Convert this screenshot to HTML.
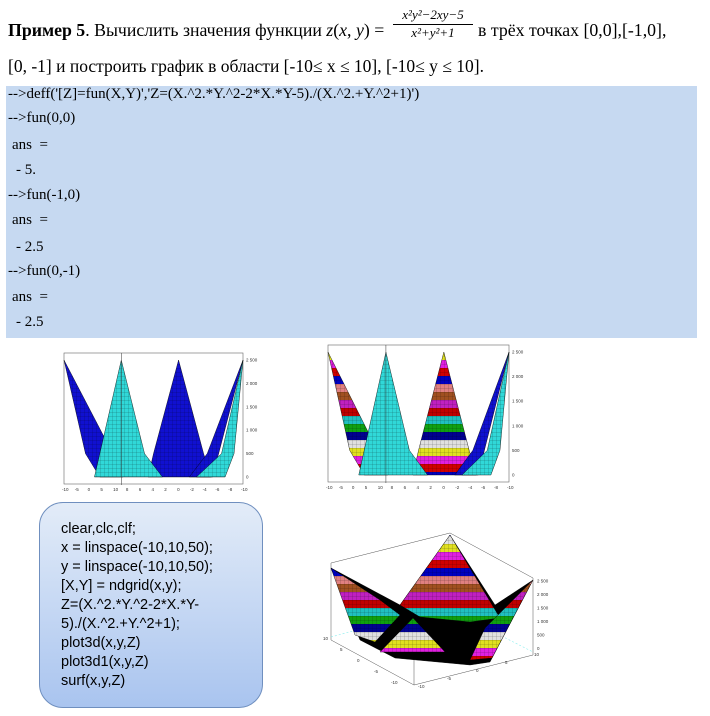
<!DOCTYPE html>
<html><head><meta charset="utf-8">
<style>
body{margin:0;width:710px;height:716px;background:#fff;position:relative;overflow:hidden;font-family:"Liberation Serif",serif;}
.t{position:absolute;white-space:nowrap;color:#000;}
.code{position:absolute;left:6px;top:86px;width:691px;height:252px;background:#c6d9f1;}
.cl{position:absolute;font-size:15px;white-space:nowrap;line-height:15px;}
.box{position:absolute;left:39px;top:502px;width:222px;height:204px;border:1.5px solid #6f8fbf;border-radius:24px;background:linear-gradient(#e3ecf8,#a9c4ef);}
.bl{position:absolute;left:21px;font-family:"Liberation Sans",sans-serif;font-size:14.5px;line-height:19px;white-space:nowrap;}
</style></head><body>
<div class="t" style="left:8px;top:20px;font-size:17.8px;"><b>Пример 5</b>. Вычислить значения функции <i>z</i>(<i>x</i>, <i>y</i>) =</div>
<div class="t" style="left:393px;top:7px;font-size:13px;font-style:italic;text-align:center;width:80px;">
<div style="border-bottom:1px solid #000;padding-bottom:1px">x²y²−2xy−5</div><div>x²+y²+1</div></div>
<div class="t" style="left:478px;top:20px;font-size:17.8px;">в трёх точках [0,0],[-1,0],</div>
<div class="t" style="left:8px;top:56px;font-size:17.5px;">[0, -1] и построить график в области [-10≤ x ≤ 10], [-10≤ y ≤ 10].</div>

<div class="code">
<div class="cl" style="left:2px;top:1px">--&gt;deff('[Z]=fun(X,Y)','Z=(X.^2.*Y.^2-2*X.*Y-5)./(X.^2.+Y.^2+1)')</div>
<div class="cl" style="left:2px;top:25px">--&gt;fun(0,0)</div>
<div class="cl" style="left:6px;top:52px">ans &nbsp;=</div>
<div class="cl" style="left:10px;top:77px">- 5.</div>
<div class="cl" style="left:2px;top:102px">--&gt;fun(-1,0)</div>
<div class="cl" style="left:6px;top:127px">ans &nbsp;=</div>
<div class="cl" style="left:10px;top:154px">- 2.5</div>
<div class="cl" style="left:2px;top:178px">--&gt;fun(0,-1)</div>
<div class="cl" style="left:6px;top:204px">ans &nbsp;=</div>
<div class="cl" style="left:10px;top:229px">- 2.5</div>
</div>

<svg width="710" height="716" style="position:absolute;left:0;top:0">
<defs>
<pattern id="grid" width="4" height="4" patternUnits="userSpaceOnUse"><path d="M0 0H4M0 0V4" stroke="#000" stroke-width="0.4" opacity="0.6"/></pattern>
<pattern id="stripes" width="200" height="96" patternUnits="userSpaceOnUse">
<rect y="0" width="200" height="8" fill="#e08080"/><rect y="8" width="200" height="8" fill="#a05020"/><rect y="16" width="200" height="8" fill="#c020c0"/><rect y="24" width="200" height="8" fill="#c00000"/><rect y="32" width="200" height="8" fill="#20c0c0"/><rect y="40" width="200" height="8" fill="#10a010"/><rect y="48" width="200" height="8" fill="#000090"/><rect y="56" width="200" height="8" fill="#e0e0e0"/><rect y="64" width="200" height="8" fill="#e0e020"/><rect y="72" width="200" height="8" fill="#e020e0"/><rect y="80" width="200" height="8" fill="#d00000"/><rect y="88" width="200" height="8" fill="#0000c0"/>
</pattern>
</defs>
<g id="p1"></g>
<g id="p2"></g>
<g id="p3"></g>
</svg>

<div class="box">
<div class="bl" style="top:17px">clear,clc,clf;</div>
<div class="bl" style="top:36px">x = linspace(-10,10,50);</div>
<div class="bl" style="top:55px">y = linspace(-10,10,50);</div>
<div class="bl" style="top:74px">[X,Y] = ndgrid(x,y);</div>
<div class="bl" style="top:93px">Z=(X.^2.*Y.^2-2*X.*Y-</div>
<div class="bl" style="top:112px">5)./(X.^2.+Y.^2+1);</div>
<div class="bl" style="top:131px">plot3d(x,y,Z)</div>
<div class="bl" style="top:150px">plot3d1(x,y,Z)</div>
<div class="bl" style="top:169px">surf(x,y,Z)</div>
</div>

<script>
const zTicks=[0,500,1000,1500,2000,2500];
const zTickLabels=["0","500","1 000","1 500","2 000","2 500"];
const xTickLabels=["-10","-5","0","5","10","8","6","4","2","0","-2","-4","-6","-8","-10"];
const zMax=2500;
const NS="http://www.w3.org/2000/svg";
function el(p,tag,a){const e=document.createElementNS(NS,tag);for(const k in a)e.setAttribute(k,a[k]);p.appendChild(e);return e;}
function txt(p,x,y,s,size){const e=el(p,'text',{x:x,y:y,'font-size':size||4.5,'font-family':'Liberation Sans, sans-serif',fill:'#333'});e.textContent=s;return e;}
function poly(p,pts,fill,name){const e=el(p,'polygon',{points:pts.map(q=>q.join(',')).join(' '),fill:fill,stroke:'#000','stroke-width':0.4});


el(p,'polygon',{points:pts.map(q=>q.join(',')).join(' '),fill:'url(#grid)'});return e;}
function flatPlot(id,L,R,T,B,colorful){
 const g=document.getElementById(id);
 const zy=v=>B-(v/zMax)*(B-T);
 el(g,'rect',{x:L,y:T-7,width:R-L,height:B-T+14,fill:'#fff',stroke:'#666','stroke-width':0.6});
 const W=R-L, top=zy(2500), bot=zy(0), mid=zy(500);
 const px=f=>L+f*W;
 const c2=colorful?'url(#stripes)':'#1010d0';
 poly(g,[[px(0),top],[px(0.12),mid],[px(0.2),bot],[px(0.33),bot],[px(0.3),zy(300)]],c2,'left-wall');
 poly(g,[[px(0.64),top],[px(0.5),mid],[px(0.47),bot],[px(0.82),bot],[px(0.78),mid]],c2,'back-peak');
 poly(g,[[px(1),top],[px(0.8),mid],[px(0.7),bot],[px(0.83),bot]],'#1010d0','right-wall');
 poly(g,[[px(0.32),top],[px(0.2),mid],[px(0.17),bot],[px(0.55),bot],[px(0.45),mid]],'#30d8d8','front-peak');
 poly(g,[[px(1),top],[px(0.88),mid],[px(0.74),bot],[px(0.9),bot],[px(0.95),mid]],'#30d8d8','right-face');
 el(g,'line',{x1:px(0.32),y1:T-7,x2:px(0.32),y2:B+8,stroke:'#333','stroke-width':0.5});
 zTicks.forEach((v,i)=>{txt(g,R+3,zy(v)+1.5,zTickLabels[i],4.5);});
 xTickLabels.forEach((s,i)=>txt(g,L-2+i*(W/(xTickLabels.length-1)),B+14,s,4.5));
}
flatPlot('p1',64,243,360,477,false);
flatPlot('p2',328,509,352,475,true);
(function(){
 const g=document.getElementById('p3');
 const s='#555';
 [[331,563,450,533],[450,533,533,578],[331,563,331,640],[533,578,533,655],[414,685,533,655],[331,640,414,685],[414,610,414,685]].forEach(l=>el(g,'line',{x1:l[0],y1:l[1],x2:l[2],y2:l[3],stroke:s,'stroke-width':0.5}));
 el(g,'line',{x1:331,y1:637,x2:400,y2:618,stroke:'#8ee','stroke-width':0.6,'stroke-dasharray':'2,2'});
 el(g,'line',{x1:480,y1:625,x2:533,y2:652,stroke:'#8ee','stroke-width':0.6,'stroke-dasharray':'2,2'});
 poly(g,[[331,568],[360,640],[395,658],[470,665],[490,662],[533,580],[495,605],[450,535],[400,605]],'#000','valley');
 poly(g,[[331,568],[355,635],[375,642],[400,615],[380,600]],'url(#stripes)','left-peak');
 poly(g,[[450,535],[400,605],[420,617],[470,622],[500,618]],'url(#stripes)','back-peak');
 poly(g,[[533,580],[485,628],[470,660],[492,658]],'url(#stripes)','right-peak');
 poly(g,[[413,618],[380,652],[445,652]],'url(#stripes)','front-peak');
 zTicks.forEach((v,i)=>txt(g,537,650-v*0.027,zTickLabels[i],4.5));
 ["10","5","0","-5","-10"].forEach((s,i)=>txt(g,323+i*17,640+i*11,s,4.5));
 ["-10","-5","0","5","10"].forEach((s,i)=>txt(g,418+i*29,688-i*8,s,4.5));
})();
</script>
</body></html>
